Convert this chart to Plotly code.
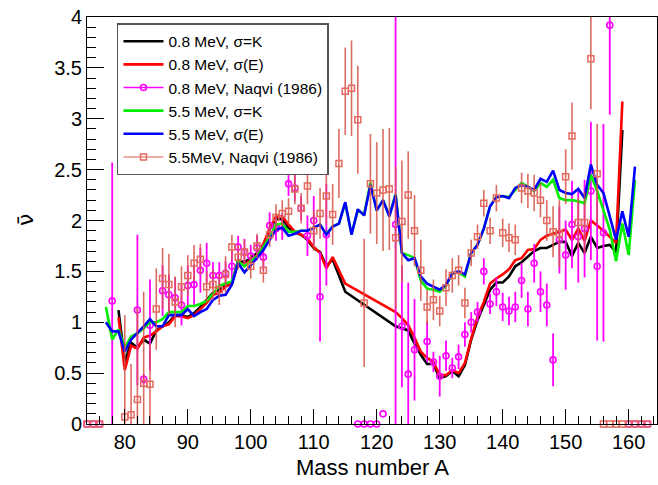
import plotly.graph_objects as go

# ---------------- data ----------------
# 0.8 MeV, sigma=K (black)
A_k08 = [79,80,81,82,83,84,85,86,87,88,89,90,91,92,93,94,95,96,97,98,99,100,101,102,103,104,105,106,107,108,109,110,111,112,113,115,
         123,124,125,126,127,128,129,130,131,132,133,134,135,136,137,138,139,140,141,142,143,144,145,146,147,148,149,150,151,152,153,154,155,156,157,158,159]
v_k08 = [1.12,0.61,0.80,0.75,0.83,0.79,0.92,0.96,1.00,1.07,1.07,1.05,1.09,1.15,1.22,1.29,1.32,1.37,1.38,1.61,1.59,1.63,1.68,1.76,1.91,2.02,2.01,1.93,1.88,1.86,1.81,1.73,1.69,1.55,1.62,1.30,
         0.96,0.94,0.92,0.79,0.68,0.59,0.59,0.45,0.47,0.52,0.47,0.58,0.83,1.02,1.17,1.32,1.39,1.39,1.45,1.55,1.59,1.65,1.70,1.73,1.73,1.76,1.79,1.79,1.65,1.78,1.68,1.84,1.73,1.75,1.76,1.69,2.89]

# 0.8 MeV, sigma(E) (red)
A_e08 = A_k08
v_e08 = [1.05,0.53,0.77,0.74,0.85,0.87,0.91,0.96,0.98,1.06,1.06,1.04,1.07,1.13,1.19,1.27,1.29,1.35,1.38,1.59,1.57,1.61,1.66,1.77,1.92,2.04,2.04,1.96,1.89,1.86,1.82,1.74,1.68,1.53,1.64,1.38,
         1.10,1.04,0.97,0.85,0.71,0.65,0.61,0.48,0.48,0.53,0.50,0.60,0.84,1.05,1.20,1.38,1.43,1.47,1.52,1.61,1.63,1.71,1.72,1.81,1.85,1.87,1.89,1.91,1.81,1.92,1.80,2.00,1.95,1.90,1.84,1.78,3.17]

# 5.5 MeV, sigma=K (green)
A_k55 = list(range(77, 162))
v_k55 = [1.15,0.83,0.93,0.75,0.86,0.89,0.94,1.00,1.00,1.03,1.10,1.10,1.10,1.16,1.16,1.18,1.21,1.28,1.36,1.38,1.40,1.60,1.55,1.60,1.65,1.74,1.84,1.96,1.97,1.89,
         1.89,1.90,1.90,1.93,1.96,1.87,1.94,1.97,2.17,1.87,2.10,2.06,2.37,2.10,2.20,2.05,2.26,1.68,1.66,1.63,1.41,1.33,1.32,1.30,1.36,1.48,1.49,1.45,1.68,1.76,
         1.92,2.14,2.23,2.24,2.23,2.30,2.37,2.33,2.29,2.37,2.33,2.40,2.22,2.20,2.20,2.19,2.17,2.45,2.29,2.10,1.91,1.60,1.97,1.66,2.40]

# 5.5 MeV, sigma(E) (blue)
A_e55 = A_k55
v_e55 = [1.00,0.91,0.91,0.71,0.83,0.89,0.96,1.03,0.96,0.96,1.07,1.07,1.07,1.13,1.06,1.10,1.13,1.22,1.26,1.27,1.37,1.58,1.49,1.56,1.63,1.71,1.81,1.91,1.93,1.85,
         1.87,1.90,1.90,1.93,1.96,1.86,1.94,1.97,2.18,1.86,2.11,2.05,2.35,2.10,2.20,2.04,2.25,1.68,1.61,1.63,1.45,1.38,1.35,1.32,1.37,1.48,1.50,1.47,1.68,1.76,
         1.92,2.14,2.23,2.24,2.22,2.32,2.35,2.33,2.30,2.41,2.38,2.49,2.30,2.27,2.26,2.31,2.22,2.55,2.35,2.27,2.04,1.81,2.09,1.84,2.53]

# Naqvi (1986), 0.8 MeV (magenta circles)
A_n08 = [78,82,83,84,86,87,88,89,90,91,92,93,94,95,96,97,98,99,100,101,102,103,104,105,106,107,108,109,110,111,112,121,
         123,124,125,126,128,129,130,131,132,133,134,135,136,137,138,139,140,141,142,143,144,145,146,147,148,149,150,151,152,153,154,155,156,157]
v_n08 = [1.21,1.12,0.44,0.97,1.31,1.27,1.24,1.17,1.36,1.37,1.51,1.58,1.46,1.46,1.48,1.55,1.74,1.69,1.65,1.73,1.64,1.95,1.92,1.94,2.36,2.32,2.12,1.85,2.00,1.25,1.86,0.10,
         1.96,0.96,0.49,0.73,0.81,0.61,0.47,0.67,0.55,0.66,0.88,1.00,1.10,1.50,1.18,1.30,1.15,1.11,1.15,1.41,1.13,1.58,1.30,1.17,0.63,1.81,1.66,1.96,1.84,1.92,2.29,1.55,1.88,3.92]
e_n08 = [1.36,0.74,0.05,0.45,0.25,0.20,0.20,0.20,0.20,0.20,0.22,0.20,0.13,0.13,0.12,0.16,0.11,0.13,0.11,0.12,0.13,0.13,0.12,0.13,0.12,0.13,0.12,0.20,0.24,0.44,0.50,0.0,
         3.00,0.60,0.90,0.50,0.20,0.10,0.20,0.15,0.10,0.12,0.12,0.10,0.10,0.13,0.10,0.14,0.14,0.14,0.15,0.17,0.17,0.19,0.20,0.21,0.26,0.33,0.34,0.43,0.45,0.48,0.68,0.73,1.07,0.88]
A_n08_zero = [74,75,76,117,118,119,120,160,161,162,163]
v_n08_zero = [0,0,0,0,0,0,0,0,0,0,0]

# Naqvi (1986), 5.5 MeV (salmon squares)
A_n55 = list(range(80, 156))
v_n55 = [0.07,0.09,0.24,0.40,0.39,1.13,1.43,1.37,1.20,1.35,1.46,1.58,1.62,1.35,1.37,1.32,1.47,1.74,1.64,1.69,1.55,1.75,1.51,1.86,2.03,2.07,2.09,2.31,2.12,2.34,
         1.90,2.07,2.24,2.06,2.56,3.27,3.30,2.99,1.19,2.36,2.27,2.30,2.31,1.83,1.99,2.25,1.90,1.51,1.15,1.22,1.11,1.34,1.46,1.51,1.19,1.68,1.84,2.17,1.90,2.22,
         1.88,1.83,1.81,2.32,2.29,2.27,2.20,2.00,1.89,1.87,2.43,2.83,1.98,1.98,3.59,2.46]
e_n55 = [1.00,0.50,0.90,0.90,0.40,0.40,0.30,0.30,0.25,0.20,0.20,0.18,0.15,0.15,0.15,0.15,0.18,0.12,0.12,0.12,0.12,0.12,0.12,0.12,0.13,0.13,0.13,0.15,0.15,0.18,
         0.20,0.25,0.28,0.30,0.34,0.43,0.47,0.53,0.63,0.49,0.50,0.60,0.60,0.70,0.60,0.43,0.35,0.30,0.17,0.20,0.15,0.18,0.17,0.15,0.15,0.13,0.12,0.13,0.13,0.13,
         0.14,0.14,0.15,0.15,0.17,0.18,0.17,0.20,0.25,0.33,0.27,0.33,0.25,0.30,0.50,0.49]
A_n55_zero = [74,75,76,156,157,158,159,160,161,162,163]
v_n55_zero = [0,0,0,0,0,0,0,0,0,0,0]

names = ["0.8 MeV, σ=K", "0.8 MeV, σ(E)", "0.8 MeV, Naqvi (1986)",
         "5.5 MeV, σ=K", "5.5 MeV, σ(E)", "5.5MeV, Naqvi (1986)"]

# ---------------- styles ----------------
MAG = "#ff00ff"
SAL = "#e26a5e"
SAL_BAR = "rgba(214,82,70,0.85)"
FONT = "Liberation Sans, Arial, Helvetica, sans-serif"
LW = 2.6

fig = go.Figure()

def line_trace(x, y, color, name, rank):
    return go.Scatter(x=x, y=y, mode="lines", line=dict(color=color, width=LW),
                      name=name, legendrank=rank)

fig.add_trace(line_trace(A_k08, v_k08, "#000000", names[0], 1))
fig.add_trace(line_trace(A_e08, v_e08, "#ff0000", names[1], 2))

# magenta data
fig.add_trace(go.Scatter(x=A_n08, y=v_n08, mode="markers", showlegend=False,
                         marker=dict(symbol="circle-open", size=6, color=MAG, line=dict(width=1.6, color=MAG)),
                         error_y=dict(type="data", array=e_n08, color=MAG, thickness=1.8, width=0)))
fig.add_trace(go.Scatter(x=A_n08_zero, y=v_n08_zero, mode="markers", showlegend=False, cliponaxis=False,
                         marker=dict(symbol="circle-open", size=6, color=MAG, line=dict(width=1.6, color=MAG))))
fig.add_trace(go.Scatter(x=[None], y=[None], mode="lines+markers", name=names[2], legendrank=3,
                         line=dict(color=MAG, width=1.5),
                         marker=dict(symbol="circle-open", size=6, color=MAG, line=dict(width=1.6, color=MAG))))

fig.add_trace(line_trace(A_k55, v_k55, "#00ee00", names[3], 4))
fig.add_trace(line_trace(A_e55, v_e55, "#0000ff", names[4], 5))

# salmon data
fig.add_trace(go.Scatter(x=A_n55, y=v_n55, mode="markers", showlegend=False,
                         marker=dict(symbol="square-open", size=6, color=SAL, line=dict(width=1.5, color=SAL)),
                         error_y=dict(type="data", array=e_n55, color=SAL_BAR, thickness=1.6, width=0)))
fig.add_trace(go.Scatter(x=A_n55_zero, y=v_n55_zero, mode="markers", showlegend=False, cliponaxis=False,
                         marker=dict(symbol="square-open", size=6, color=SAL, line=dict(width=1.5, color=SAL))))
fig.add_trace(go.Scatter(x=[None], y=[None], mode="lines+markers", name=names[5], legendrank=6,
                         line=dict(color="#e8928a", width=1.5),
                         marker=dict(symbol="square-open", size=6, color=SAL, line=dict(width=1.5, color=SAL))))

axis_common = dict(showline=True, linecolor="black", linewidth=1, mirror=True,
                   showgrid=False, zeroline=False, ticks="inside", tickcolor="black",
                   tickwidth=1, tickfont=dict(family=FONT, size=20, color="black"))

fig.update_layout(
    width=658, height=485,
    margin=dict(l=87, r=1, t=17, b=61),
    paper_bgcolor="white", plot_bgcolor="white",
    xaxis=dict(range=[74, 164.5], tick0=80, dtick=10, ticklen=15,
               minor=dict(dtick=2, tick0=80, ticklen=8, ticks="inside", tickcolor="black", tickwidth=1),
               **axis_common),
    yaxis=dict(range=[0, 4], tick0=0, dtick=0.5, ticklen=17,
               minor=dict(dtick=0.1, tick0=0, ticklen=9, ticks="inside", tickcolor="black", tickwidth=1),
               **axis_common),
    legend=dict(x=0.0526, y=0.985, xanchor="left", yanchor="top",
                bgcolor="white", bordercolor="#555555", borderwidth=1.5,
                itemwidth=40,
                font=dict(family=FONT, size=15.5, color="black"), tracegroupgap=0),
    annotations=[
        dict(text="Mass number A", xref="paper", yref="paper", x=0.5, y=-0.108,
             xanchor="center", yanchor="middle", showarrow=False,
             font=dict(family=FONT, size=22, color="black")),
        dict(text="\u03bd\u0304", xref="paper", yref="paper", x=-0.109, y=0.501,
             xanchor="center", yanchor="middle", showarrow=False, textangle=-90,
             font=dict(family="DejaVu Sans", size=22, color="black")),
    ],
    showlegend=True,
)

fig.write_html("out.html")
